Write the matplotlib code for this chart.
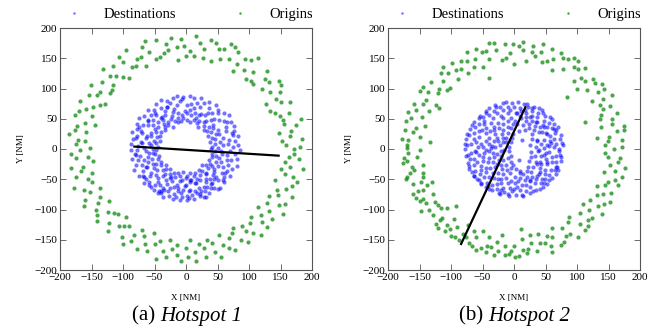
import numpy as np
import matplotlib
matplotlib.use("Agg")
import matplotlib.pyplot as plt

plt.rcParams['font.family'] = ['Liberation Serif', 'DejaVu Serif']

# --- Hotspot 1 ---
origins_a = [
    (172, 0), (181, 3), (158, 7), (184, 16), (152, 13), (165, 22), (148, 26), (167, 30), (175, 39), (182, 49),
    (155, 41), (154, 48), (164, 60), (149, 54), (142, 59), (165, 77), (134, 63), (150, 78), (127, 74), (143, 83),
    (149, 95), (133, 94), (151, 106), (147, 113), (120, 100), (132, 111), (126, 116), (129, 129), (107, 107),
    (103, 112), (107, 128), (96, 115), (115, 150), (92, 131), (103, 147), (94, 148), (75, 129), (81, 140),
    (83, 160), (69, 149), (78, 168), (72, 173), (54, 148), (60, 165), (52, 165), (39, 146), (47, 175), (40, 180),
    (29, 165), (27, 151), (23, 176), (13, 154), (16, 187), (7, 162),
    (0, 154), (-3, 171), (-8, 182), (-15, 168), (-13, 147), (-24, 183), (-31, 174), (-29, 163), (-35, 159),
    (-48, 180), (-41, 152), (-47, 149), (-58, 161), (-65, 178), (-70, 169), (-64, 138), (-71, 152), (-77, 148),
    (-95, 164), (-79, 137), (-86, 135), (-100, 143), (-106, 152), (-91, 118), (-116, 138), (-100, 119),
    (-111, 121), (-132, 132), (-120, 120), (-116, 106), (-133, 111), (-117, 98), (-120, 92), (-151, 106),
    (-136, 95), (-142, 90), (-154, 89), (-129, 75), (-137, 72), (-147, 69), (-169, 79), (-159, 66), (-149, 54),
    (-170, 62), (-176, 56), (-160, 43), (-145, 39), (-173, 38), (-176, 31), (-158, 28), (-186, 25), (-160, 14),
    (-171, 15), (-174, 8),
    (-168, -2), (-152, 1), (-183, -8), (-156, -14), (-175, -15), (-148, -20), (-183, -32), (-163, -29),
    (-167, -37), (-149, -40), (-174, -47), (-155, -49), (-177, -64), (-150, -55), (-162, -67), (-137, -64),
    (-153, -71), (-161, -84), (-137, -79), (-162, -94), (-140, -89), (-123, -86), (-143, -100), (-142, -109),
    (-124, -104), (-142, -119), (-114, -105), (-122, -122), (-108, -108), (-124, -136), (-107, -128),
    (-95, -113), (-98, -128), (-102, -146), (-90, -128), (-100, -157), (-82, -142), (-88, -152), (-70, -134),
    (-77, -166), (-67, -144), (-65, -157), (-51, -139), (-62, -169), (-50, -157), (-48, -181), (-41, -152),
    (-37, -169), (-26, -150), (-32, -179), (-22, -166), (-15, -176), (-14, -159), (-8, -185),
    (0, -163), (3, -179), (7, -150), (15, -171), (16, -185), (21, -157), (31, -178), (29, -163), (33, -150),
    (46, -170), (41, -155), (56, -178), (58, -159), (52, -142), (68, -164), (69, -147), (78, -167), (73, -139),
    (87, -150), (75, -130), (98, -153), (95, -136), (89, -127), (107, -139), (119, -142), (102, -122),
    (103, -112), (120, -120), (129, -129), (119, -109), (136, -115), (114, -96), (132, -102), (154, -108),
    (128, -90), (147, -93), (132, -77), (157, -91), (146, -76), (169, -79), (145, -68), (159, -66), (141, -51),
    (168, -61), (176, -55), (157, -42), (170, -46), (151, -33), (186, -33), (165, -29), (157, -21), (179, -16),
    (164, -14), (171, -8),
]

destinations_a = [
    (74, 4), (50, 2), (42, 4), (83, 6), (58, 7), (66, 8), (46, 8), (78, 13), (54, 12), (69, 15), (38, 11), (83, 21),
    (59, 18), (75, 23), (46, 17), (73, 26), (41, 18), (76, 30), (52, 24), (63, 29), (47, 25), (76, 38), (35, 21),
    (64, 36), (51, 32), (71, 44), (39, 28), (65, 45), (43, 34), (61, 46), (34, 29), (68, 56), (43, 40), (52, 48),
    (36, 36), (60, 59), (28, 32), (45, 49), (40, 48), (51, 59), (28, 38), (51, 65), (32, 46), (42, 60), (28, 45),
    (48, 73), (19, 36), (35, 60), (30, 57), (36, 67), (21, 46), (37, 77), (17, 43), (24, 58), (20, 56), (29, 76),
    (16, 51), (23, 70), (12, 48), (24, 84), (14, 60), (18, 76), (7, 44), (13, 68), (8, 56), (12, 84), (6, 64),
    (8, 75), (2, 48), (6, 88), (1, 59), (1, 72),
    (-2, 63), (-4, 86), (-4, 51), (-6, 82), (-7, 57), (-9, 79), (-8, 47), (-14, 88), (-12, 60), (-14, 72),
    (-13, 52), (-20, 84), (-13, 44), (-19, 66), (-21, 61), (-25, 76), (-18, 46), (-30, 79), (-23, 54), (-30, 69),
    (-24, 50), (-39, 81), (-20, 37), (-34, 63), (-34, 57), (-40, 67), (-29, 44), (-48, 74), (-28, 39), (-38, 53),
    (-37, 48), (-51, 65), (-35, 42), (-48, 57), (-34, 37), (-60, 65), (-44, 44), (-56, 56), (-34, 31), (-52, 48),
    (-44, 37), (-66, 55), (-52, 40), (-61, 47), (-40, 28), (-74, 52), (-50, 33), (-61, 40), (-47, 28), (-68, 40),
    (-41, 22), (-77, 41), (-56, 27), (-74, 36), (-46, 20), (-77, 33), (-56, 21), (-70, 27), (-41, 14), (-85, 28),
    (-63, 18), (-77, 22), (-51, 13), (-79, 19), (-47, 10), (-84, 16), (-59, 10), (-71, 11), (-56, 7), (-88, 9),
    (-44, 4), (-76, 5),
    (-66, 2), (-77, -1), (-52, 0), (-87, -2), (-47, -2), (-64, -3), (-59, -6), (-81, -8), (-53, -7), (-73, -11),
    (-49, -8), (-86, -17), (-60, -14), (-76, -18), (-43, -11), (-67, -18), (-54, -17), (-80, -26), (-60, -22),
    (-70, -26), (-44, -17), (-82, -35), (-53, -24), (-64, -30), (-47, -24), (-68, -36), (-39, -22), (-74, -44),
    (-51, -32), (-68, -44), (-40, -27), (-66, -47), (-46, -35), (-57, -44), (-32, -26), (-66, -57), (-47, -43),
    (-58, -54), (-36, -35), (-59, -60), (-32, -33), (-55, -62), (-37, -44), (-45, -54), (-33, -42), (-51, -68),
    (-25, -33), (-42, -60), (-32, -51), (-43, -69), (-25, -41), (-39, -69), (-25, -48), (-35, -68), (-19, -40),
    (-36, -79), (-22, -53), (-26, -65), (-17, -47), (-27, -78), (-13, -40), (-19, -62), (-15, -59), (-19, -74),
    (-10, -44), (-16, -79), (-9, -53), (-12, -70), (-7, -51), (-10, -85), (-4, -38), (-5, -67),
    (-2, -61), (1, -78), (0, -48), (2, -84), (2, -44), (5, -81), (6, -55), (7, -67), (7, -51), (13, -83), (7, -39),
    (14, -70), (14, -57), (18, -73), (13, -45), (22, -74), (17, -50), (24, -70), (15, -40), (32, -79), (23, -51),
    (28, -62), (22, -43), (37, -73), (20, -35), (31, -55), (31, -50), (40, -64), (25, -36), (45, -65), (32, -42),
    (42, -56), (32, -39), (54, -65), (25, -27), (45, -49), (43, -43), (51, -51), (35, -32), (61, -55), (32, -27),
    (45, -38), (44, -33), (61, -47), (41, -28), (57, -39), (38, -24), (70, -44), (50, -28), (65, -37), (36, -18),
    (58, -29), (48, -21), (73, -33), (56, -22), (66, -26), (41, -14), (81, -28), (52, -15), (65, -19), (48, -11),
    (71, -18), (41, -8), (81, -16), (57, -8), (65, -10), (46, -4), (78, -9), (55, -3), (70, -4), (39, 0), (85, -2),
    (-50, -60), (-40, -72), (-30, -58), (-20, -82), (-8, -72), (0, -60), (10, -76), (20, -64), (30, -70),
    (40, -58), (50, -66), (-45, -48), (-28, -70), (-12, -64), (4, -70), (16, -56), (28, -80), (38, -50),
    (58, -52), (-55, -40), (-36, -64), (-24, -46), (-6, -80), (8, -52), (22, -77), (34, -62), (48, -46),
    (62, -40), (-62, -30), (-70, 10), (-72, 30), (-60, 48), (-80, -10), (-64, -50), (-44, -72), (-50, 60),
    (-40, 52), (-30, 70), (-62, 22),
]

# --- Hotspot 2 ---
origins_b = [
    (158, 0), (171, 4), (145, 6), (171, 15), (149, 13), (150, 20), (164, 29), (174, 31), (174, 38), (138, 37),
    (156, 42), (155, 49), (164, 59), (137, 50), (138, 57), (152, 71), (142, 66), (137, 72), (156, 90), (142, 82),
    (124, 79), (133, 94), (143, 100), (140, 107), (116, 98), (129, 109), (125, 115), (100, 100), (113, 113),
    (107, 117), (113, 134), (95, 113), (101, 132), (95, 135), (102, 146), (96, 151), (77, 132), (86, 148),
    (78, 150), (61, 130), (74, 159), (62, 149), (61, 166), (53, 146), (45, 143), (43, 161), (46, 173), (34, 153),
    (30, 170), (28, 160), (19, 145), (14, 163), (15, 177), (8, 171),
    (0, 141), (-2, 174), (-7, 159), (-15, 174), (-13, 151), (-19, 147), (-29, 163), (-31, 175), (-39, 175),
    (-40, 148), (-44, 162), (-51, 161), (-49, 135), (-60, 165), (-62, 149), (-75, 160), (-63, 136), (-75, 145),
    (-84, 145), (-73, 126), (-84, 132), (-99, 142), (-92, 131), (-89, 116), (-105, 126), (-113, 135),
    (-116, 126), (-112, 112), (-101, 101), (-107, 98), (-132, 111), (-119, 100), (-120, 92), (-136, 95),
    (-145, 102), (-150, 96), (-124, 72), (-139, 81), (-144, 75), (-158, 74), (-135, 63), (-155, 64), (-146, 53),
    (-168, 61), (-164, 52), (-171, 46), (-142, 38), (-156, 35), (-161, 28), (-173, 31), (-149, 20), (-168, 15),
    (-178, 16), (-170, 7),
    (-149, -2), (-170, 1), (-168, -7), (-154, -13), (-175, -15), (-176, -23), (-145, -26), (-162, -29),
    (-159, -35), (-170, -46), (-145, -39), (-145, -46), (-160, -58), (-148, -54), (-130, -54), (-144, -67),
    (-161, -75), (-155, -81), (-128, -74), (-144, -83), (-139, -89), (-147, -103), (-126, -88), (-121, -93),
    (-129, -109), (-116, -97), (-106, -97), (-114, -114), (-124, -124), (-120, -130), (-96, -115),
    (-106, -126), (-102, -132), (-90, -129), (-100, -143), (-93, -146), (-73, -126), (-81, -140), (-76, -145),
    (-72, -155), (-63, -136), (-61, -146), (-50, -136), (-61, -167), (-52, -164), (-39, -146), (-43, -161),
    (-36, -162), (-31, -175), (-27, -153), (-19, -142), (-14, -161), (-15, -175), (-8, -174),
    (0, -161), (2, -178), (8, -177), (13, -149), (15, -167), (22, -166), (27, -155), (25, -142), (37, -169),
    (38, -141), (41, -155), (49, -156), (58, -161), (52, -144), (61, -146), (61, -131), (74, -159), (79, -153),
    (76, -131), (83, -143), (89, -140), (102, -146), (85, -121), (87, -113), (104, -124), (113, -134),
    (118, -128), (105, -105), (117, -117), (124, -114), (119, -100), (109, -91), (140, -107), (120, -84),
    (133, -94), (143, -91), (152, -88), (132, -76), (142, -74), (154, -72), (131, -61), (145, -60), (149, -54),
    (165, -60), (160, -51), (143, -38), (171, -46), (161, -36), (176, -31), (153, -27), (165, -22), (168, -15),
    (149, -13), (144, -6),
    (-133, 12), (-40, 117), (84, 86), (113, 45), (132, 18), (-119, 68), (-92, -95), (11, -132),
    (-165, -40), (-152, -70), (-135, -100), (-118, -118), (-88, -150), (-66, -160), (-138, -60), (-170, -20),
    (-110, -135), (-45, -170), (-25, -168), (-5, -168), (20, -172), (60, -170), (-150, -86), (-172, -50),
]

destinations_b = [
    (72, 0), (48, 2), (63, 3), (55, 5), (77, 7), (35, 3), (67, 9), (52, 7), (58, 10), (43, 8), (73, 16), (57, 13),
    (64, 17), (26, 7), (74, 23), (48, 15), (57, 21), (36, 13), (65, 27), (37, 15), (67, 31), (52, 24), (51, 26),
    (64, 33), (60, 35), (29, 17), (64, 41), (45, 28), (52, 37), (40, 28), (56, 43), (47, 36), (46, 39), (29, 24),
    (57, 53), (41, 37), (47, 47), (32, 32), (49, 54), (34, 38), (37, 44), (13, 15), (46, 59), (35, 45), (37, 53),
    (24, 34), (38, 59), (29, 46), (39, 67), (24, 41), (29, 55), (17, 32), (29, 62), (25, 53), (28, 68), (19, 46),
    (19, 53), (15, 40), (22, 69), (19, 60), (17, 64), (8, 30), (16, 74), (11, 51), (11, 62), (10, 54), (9, 68),
    (5, 41), (7, 78), (5, 59), (3, 60), (2, 46),
    (0, 69), (-1, 42), (-3, 76), (-1, 25), (-6, 64), (-4, 51), (-9, 70), (-4, 34), (-10, 59), (-3, 18), (-17, 76),
    (-10, 46), (-17, 65), (-10, 37), (-22, 70), (-17, 52), (-20, 55), (-10, 27), (-29, 69), (-17, 41), (-27, 59),
    (-5, 11), (-32, 62), (-17, 32), (-39, 67), (-25, 43), (-33, 52), (-12, 19), (-39, 56), (-24, 34), (-45, 59),
    (-19, 25), (-36, 43), (-31, 37), (-49, 53), (-18, 19), (-47, 47), (-32, 32), (-56, 51), (-12, 11), (-48, 41),
    (-30, 25), (-55, 42), (-38, 29), (-64, 45), (-27, 19), (-51, 32), (-17, 11), (-62, 36), (-45, 26), (-56, 29),
    (-25, 13), (-70, 33), (-39, 18), (-63, 26), (-32, 13), (-55, 20), (-8, 3), (-72, 23), (-44, 14), (-64, 17),
    (-23, 6), (-76, 17), (-39, 9), (-60, 11), (-53, 9), (-69, 9), (-30, 4), (-74, 6), (-49, 4), (-57, 3), (-37, 2),
    (-77, 0), (-45, -1), (-62, -3), (-16, -1), (-68, -6), (-39, -3), (-73, -10), (-48, -6), (-55, -10), (-33, -6),
    (-70, -16), (-20, -4), (-64, -17), (-50, -13), (-73, -23), (-27, -8), (-59, -22), (-40, -15), (-64, -26),
    (-32, -13), (-71, -33), (-8, -4), (-53, -28), (-41, -21), (-62, -36), (-21, -12), (-53, -34), (-34, -21),
    (-63, -44), (-44, -31), (-54, -41), (-24, -18), (-45, -38), (-38, -32), (-55, -51), (-27, -25), (-47, -47),
    (-30, -30), (-53, -57), (-17, -18), (-39, -47), (-33, -39), (-43, -56), (-21, -27), (-42, -61), (-10, -15),
    (-31, -48), (-25, -40), (-35, -60), (-19, -33), (-35, -67), (-25, -49), (-27, -58), (-12, -26), (-27, -66),
    (-17, -41), (-21, -56), (-4, -11), (-23, -74), (-11, -34), (-17, -65), (-13, -48), (-16, -71), (-5, -21),
    (-10, -57), (-7, -40), (-10, -74), (-4, -31), (-6, -65), (-5, -53), (-3, -70), (-1, -26),
    (0, -66), (1, -57), (3, -76), (2, -46), (5, -63), (3, -33), (9, -68), (7, -53), (14, -77), (9, -48), (13, -59),
    (9, -39), (19, -70), (10, -37), (19, -60), (17, -52), (26, -72), (15, -42), (26, -63), (20, -47), (25, -53),
    (8, -18), (35, -67), (26, -51), (33, -57), (21, -36), (42, -66), (29, -46), (35, -50), (27, -38), (43, -56),
    (22, -29), (48, -57), (37, -44), (39, -42), (45, -49), (49, -49), (30, -30), (56, -51), (41, -38), (49, -41),
    (24, -20), (56, -43), (41, -32), (49, -34), (36, -25), (66, -42), (35, -22), (58, -34), (43, -25), (65, -34),
    (41, -21), (53, -25), (27, -13), (69, -29), (52, -21), (61, -22), (33, -12), (67, -21), (50, -16), (74, -20),
    (43, -11), (61, -13), (47, -10), (67, -12), (27, -5), (73, -10), (50, -7), (56, -5), (38, -3), (72, -3), (40, -2),
    (-30, 72), (-12, 77), (20, 74), (44, 64), (60, 50), (70, 36), (76, 10), (75, -14), (70, -34), (60, -48),
    (46, -62), (30, -70), (12, -76), (-8, -77), (-24, -73), (-40, -66), (-52, -58), (-64, -44), (-72, -28),
    (-76, -12), (-78, 8), (-74, 24), (-66, 40), (-54, 54), (-44, 62), (32, 70), (-58, -50), (-20, -68),
    (-45, -62), (52, -58), (66, -30), (-66, -38), (-50, -20), (-35, 5), (-45, 35), (-20, -50), (-60, -5),
]

# black segments (x pair, y pair)
line_a_x = [-82, 147]
line_a_y = [4, -11]
line_b_x = [-84, 18]
line_b_y = [-157, 69]

panels = [
    (origins_a, destinations_a, line_a_x, line_a_y, '(a)', 'Hotspot 1', 60),
    (origins_b, destinations_b, line_b_x, line_b_y, '(b)', 'Hotspot 2', 388),
]

W, H = 658, 328
fig = plt.figure(figsize=(W / 100, H / 100), dpi=100)

for orig, dest, lx, ly, tag, name, left in panels:
    ax = fig.add_axes([left / W, 1 - 270 / H, 252 / W, 242 / H])
    orig = np.array(orig)
    dest = np.array(dest)
    ax.plot(dest[:, 0], dest[:, 1], 'o', color='#0000ff', ms=3.0, mec='none', alpha=0.55,
            label='Destinations')
    ax.plot(orig[:, 0], orig[:, 1], 'o', color='#008000', ms=3.0, mec='none', alpha=0.7,
            label='Origins')
    ax.plot(lx, ly, color='black', lw=1.6)

    ax.set_xlim(-200, 200)
    ax.set_ylim(-200, 200)
    ax.set_xticks(np.arange(-200, 201, 50))
    ax.set_yticks(np.arange(-200, 201, 50))
    ax.tick_params(direction='in', top=True, right=True, length=4, width=0.6,
                   labelsize=8, pad=2, color='#555555')
    for sp in ax.spines.values():
        sp.set_linewidth(0.8)
        sp.set_color('#555555')
    ax.set_xlabel('X [NM]', fontsize=6.5, labelpad=9)
    ax.set_ylabel('Y [NM]', fontsize=6.5, labelpad=7)

    ax.legend(loc='lower center', bbox_to_anchor=(0.5, 1.0), ncol=2, frameon=False,
              fontsize=10.5, numpoints=1, markerscale=0.6, handlelength=2, handletextpad=1.0,
              columnspacing=3.4, borderaxespad=0.1)

    # caption: roman tag + italic name
    split = (left + 100) / W
    fig.text(split, 1 - 316 / H, tag + ' ', ha='right', va='center', fontsize=15)
    fig.text(split, 1 - 316 / H, name, ha='left', va='center', fontsize=15, style='italic')

fig.savefig('out.png', dpi=100)
